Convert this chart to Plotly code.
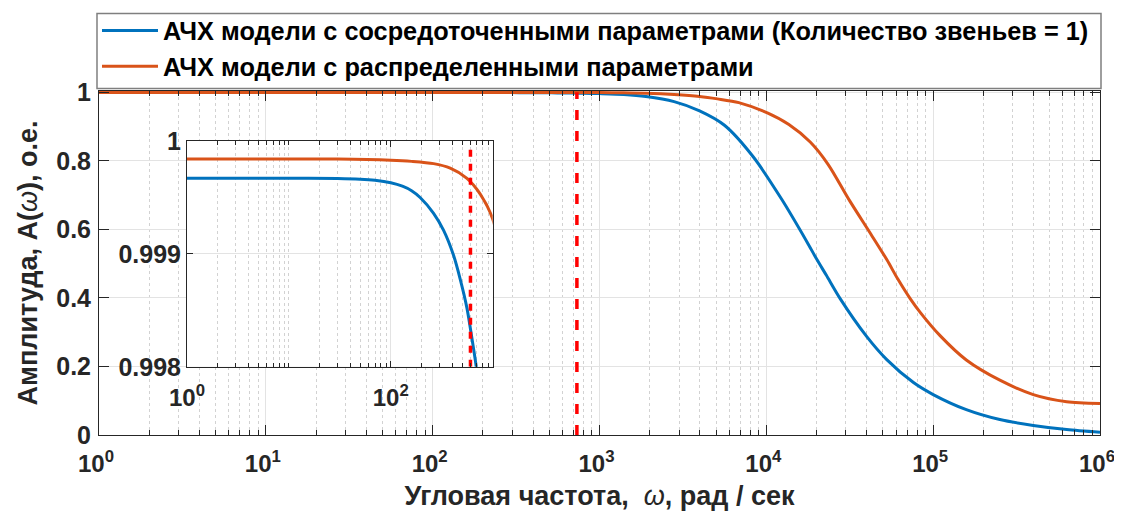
import plotly.graph_objects as go

# ---------------- data ----------------
omega_lumped = [1, 10, 30, 50, 70, 100, 130, 160, 194, 263, 329, 412, 479, 559, 626, 690,
                800, 1000, 1400, 1900, 2800, 3980, 5610, 8340, 12360, 17460, 20100,
                22900, 27700, 40000, 52700, 76200, 100000, 158000, 251000, 398000,
                631000, 1000000]
amp_lumped = [0.99967, 0.99967, 0.999668, 0.999662, 0.999652, 0.99963, 0.99960, 0.99956,
              0.99950, 0.99936, 0.99921, 0.99899, 0.99878, 0.99852, 0.99825, 0.99800,
              0.9975, 0.9965, 0.994, 0.988, 0.973, 0.946, 0.904, 0.812, 0.688, 0.565,
              0.512, 0.466, 0.398, 0.287, 0.220, 0.153, 0.118, 0.074, 0.045, 0.028,
              0.016, 0.008]

omega_distr = [1, 10, 30, 100, 160, 263, 383, 559, 755, 1000, 1400, 1900, 2800, 3980,
               5090, 6840, 10140, 13650, 18320, 23440, 31550, 42360, 52700, 61400,
               72800, 83600, 110000, 158000, 251000, 398000, 631000, 1000000]
amp_distr = [0.99984, 0.99984, 0.99984, 0.99983, 0.99982, 0.99980, 0.99976, 0.99967,
             0.99953, 0.99931, 0.9986, 0.9972, 0.9935, 0.988, 0.981, 0.970, 0.940, 0.906,
             0.855, 0.790, 0.684, 0.586, 0.512, 0.455, 0.398, 0.358, 0.290, 0.219,
             0.160, 0.118, 0.097, 0.092]

omega_marker_main = 732
omega_marker_inset = 605

name_lumped = "АЧХ модели с сосредоточенными параметрами (Количество звеньев = 1)"
name_distr = "АЧХ модели с распределенными параметрами"

x_tick_vals = [1, 10, 100, 1000, 10000, 100000, 1000000]
x_tick_text = ["10<sup>0</sup>", "10<sup>1</sup>", "10<sup>2</sup>", "10<sup>3</sup>",
               "10<sup>4</sup>", "10<sup>5</sup>", "10<sup>6</sup>"]
y_tick_vals = [0, 0.2, 0.4, 0.6, 0.8, 1]
y_tick_text = ["0", "0.2", "0.4", "0.6", "0.8", "1"]

inset_x_tick_vals = [1, 100]
inset_x_tick_text = ["10<sup>0</sup>", "10<sup>2</sup>"]
inset_y_tick_vals = [0.998, 0.999, 1.0]
inset_y_tick_text = ["0.998", "0.999", "1"]

# ---------------- styling ----------------
BLUE = "#0072BD"
ORANGE = "#D95319"
AXC = "#262626"
GRID = "#e3e3e3"
MGRID = "#d2d2d2"
FONT = "Liberation Sans, Arial, sans-serif"
TXT = "#262626"

main_minor = [m * 10 ** k for k in range(0, 6) for m in range(2, 10)]
inset_minor = [m * 10 ** k for k in range(0, 3) for m in range(2, 10)] + [10]

fig = go.Figure()

line_kw = dict(width=3, shape="spline", smoothing=0.8)

# main axes traces
fig.add_trace(go.Scatter(x=omega_lumped, y=amp_lumped, mode="lines", name=name_lumped,
                         line=dict(color=BLUE, **line_kw),
                         legendgroup="a", xaxis="x", yaxis="y"))
fig.add_trace(go.Scatter(x=omega_distr, y=amp_distr, mode="lines", name=name_distr,
                         line=dict(color=ORANGE, **line_kw),
                         legendgroup="b", xaxis="x", yaxis="y"))
fig.add_trace(go.Scatter(x=[omega_marker_main, omega_marker_main], y=[0, 1], mode="lines",
                         line=dict(color="#FF0000", width=3.5, dash="10px,11px"),
                         showlegend=False, xaxis="x", yaxis="y"))

# inset traces
fig.add_trace(go.Scatter(x=omega_lumped, y=amp_lumped, mode="lines", showlegend=False,
                         line=dict(color=BLUE, **line_kw),
                         xaxis="x2", yaxis="y2"))
fig.add_trace(go.Scatter(x=omega_distr, y=amp_distr, mode="lines", showlegend=False,
                         line=dict(color=ORANGE, **line_kw),
                         xaxis="x2", yaxis="y2"))
fig.add_trace(go.Scatter(x=[omega_marker_inset, omega_marker_inset], y=[0.998, 0.99997],
                         mode="lines", showlegend=False,
                         line=dict(color="#FF0000", width=3.5, dash="7px,7px"),
                         xaxis="x2", yaxis="y2"))

axis_common = dict(
    showline=True, linecolor=AXC, linewidth=1, mirror="ticks",
    ticks="inside", tickcolor=AXC, tickwidth=1, automargin=False,
    showgrid=True, gridcolor=GRID, gridwidth=1, zeroline=False,
)
tick_font = dict(family=FONT, size=25, color=TXT, weight="bold")
xtick_font = dict(family=FONT, size=24, color=TXT, weight="bold")

title_font = dict(family=FONT, size=27, color=TXT, weight="bold")
omega_html = "<span style='font-weight:normal'><i>ω</i></span>"

# the page body adds an 8 px offset, so the figure is 8 px smaller than the window
fig.update_layout(
    width=1114, height=508,
    margin=dict(l=91, r=22, t=82.6, b=81, autoexpand=False),
    paper_bgcolor="white", plot_bgcolor="white",
    font=dict(family=FONT, size=25, color="#000000", weight="bold"),
    xaxis=dict(type="log", range=[0, 6], tickmode="array", tickvals=x_tick_vals,
               ticktext=x_tick_text, ticklen=10, domain=[0, 1], anchor="y",
               tickfont=xtick_font, ticklabelstandoff=7, ticklabelshift=-3,
               minor=dict(tickmode="array", tickvals=main_minor, ticks="inside",
                          ticklen=5, tickcolor=AXC, showgrid=True, gridcolor=MGRID,
                          griddash="dot"),
               title=dict(text="Угловая частота,  " + omega_html + ", рад / сек",
                          font=title_font, standoff=10),
               **axis_common),
    yaxis=dict(range=[0, 1.004], tickmode="array", tickvals=y_tick_vals, ticktext=y_tick_text,
               ticklen=10, domain=[0, 1], anchor="x", tickfont=tick_font,
               ticklabelstandoff=2,
               title=dict(text="Амплитуда, A(" + omega_html + "), о.е.",
                          font=title_font, standoff=10),
               **axis_common),
    xaxis2=dict(type="log", range=[0, 3], tickmode="array", tickvals=inset_x_tick_vals,
                ticktext=inset_x_tick_text, ticklen=6, domain=[0.0879, 0.3933], anchor="y2",
                tickfont=xtick_font, ticklabelstandoff=9,
                minor=dict(tickmode="array", tickvals=inset_minor, ticks="inside",
                           ticklen=4, tickcolor=AXC, showgrid=True, gridcolor=MGRID,
                           griddash="dot"),
                **axis_common),
    yaxis2=dict(range=[0.998, 1.0], tickmode="array", tickvals=inset_y_tick_vals,
                ticktext=inset_y_tick_text, ticklen=6, domain=[0.1983, 0.8545], anchor="x2",
                tickfont=tick_font,
                **axis_common),
    legend=dict(x=-0.002, y=1.2427, xanchor="left", yanchor="top",
                borderwidth=0, bgcolor="rgba(0,0,0,0)",
                font=dict(family=FONT, size=25.3, color="#000000", weight="bold"),
                traceorder="grouped", tracegroupgap=0, itemwidth=56),
    shapes=[
        dict(type="rect", xref="x2 domain", yref="y2 domain", x0=0, x1=1, y0=0, y1=1,
             fillcolor="white", line=dict(width=0), layer="below"),
        dict(type="rect", xref="paper", yref="paper", x0=-0.002, x1=1.001,
             y0=1.0075, y1=1.2253, line=dict(color="#7f7f7f", width=1.5),
             fillcolor="rgba(0,0,0,0)", layer="above"),
    ],
)

fig.write_html("out.html")
